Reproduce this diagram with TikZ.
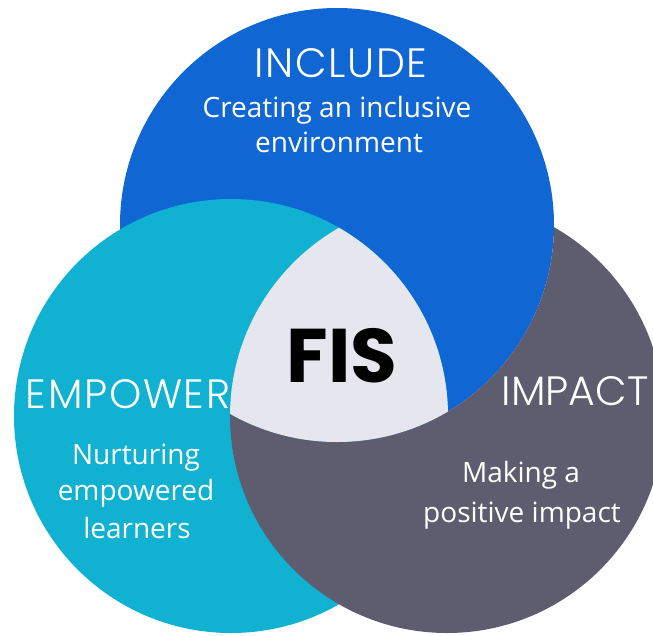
\documentclass[tikz,border=0pt]{standalone}
\usepackage{fontspec}
\setmainfont{Open Sans}
\newfontfamily\headfont{Poppins Light}[LetterSpace=4]
\newfontfamily\fisfont{Poppins}

\definecolor{includeblue}{RGB}{16,102,210}
\definecolor{empowercyan}{RGB}{16,177,209}
\definecolor{impactgray}{RGB}{94,93,112}
\definecolor{fiscore}{RGB}{229,230,238}

\tikzset{
  head/.style={anchor=base,text=white,font=\headfont\fontsize{41}{41}\selectfont},
  sub/.style={anchor=base,text=white,font=\fontsize{28}{28}\selectfont},
  core/.style={anchor=base,text=black,font=\fisfont\bfseries\fontsize{76}{76}\selectfont}
}

\begin{document}
\begin{tikzpicture}[x=1pt,y=-1pt]
        \useasboundingbox (0,0) rectangle (653,635);
        \clip (0,0) rectangle (653,635);

        \coordinate (inc) at (337,225);
        \coordinate (emp) at (231,416);
        \coordinate (imp) at (447,416);

        \fill[includeblue] (inc) circle (217pt);
        \fill[empowercyan] (emp) circle (217pt);
        \begin{scope}[even odd rule]
            \clip (0,0) rectangle (653,635) (inc) circle (217pt);
            \fill[impactgray] (imp) circle (217pt);
        \end{scope}
        \begin{scope}
            \clip (inc) circle (217pt);
            \clip (emp) circle (217pt);
            \fill[fiscore] (imp) circle (217pt);
        \end{scope}

        \node[head] (include) at (341,77) {INCLUDE};
        \node[sub] (includeA) at (337,117) {Creating an inclusive};
        \node[sub] (includeB) at (339,152) {environment};

        \node[head] (empower) at (128,408) {EMPOWER};
        \node[sub] (empowerA) at (136,464) {Nurturing};
        \node[sub] (empowerB) at (136,500) {empowered};
        \node[sub] (empowerC) at (137,538) {learners};

        \node[head,font=\headfont\addfontfeature{LetterSpace=0}\fontsize{41}{41}\selectfont] (impact) at (575,405) {IMPACT};
        \node[sub] (impactA) at (521,482) {Making a};
        \node[sub] (impactB) at (522,522) {positive impact};

        \node[core] (fis) at (342,382) {FIS};
    \end{tikzpicture}
\end{document}
